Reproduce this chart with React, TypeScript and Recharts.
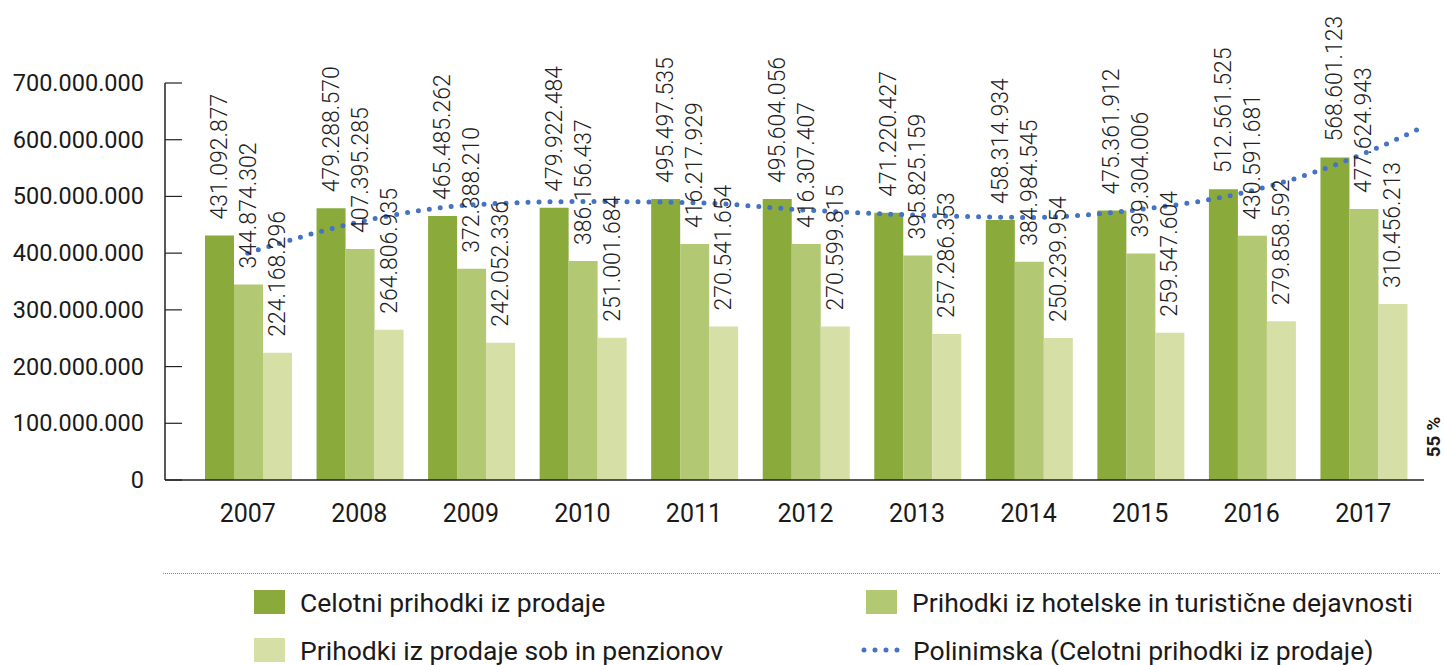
import React from 'react';
import { ComposedChart, Bar, Line, XAxis, YAxis, LabelList } from 'recharts';

const years = ['2007', '2008', '2009', '2010', '2011', '2012', '2013', '2014', '2015', '2016', '2017'];
const celotni = [431092877, 479288570, 465485262, 479922484, 495497535, 495604056, 471220427, 458314934, 475361912, 512561525, 568601123];
const hotelske = [344874302, 407395285, 372388210, 386156437, 416217929, 416307407, 395825159, 384984545, 399304006, 430591681, 477624943];
const sobe = [224168296, 264806935, 242052336, 251001684, 270541654, 270599815, 257286353, 250239954, 259547604, 279858592, 310456213];
const yTicks = [0, 100000000, 200000000, 300000000, 400000000, 500000000, 600000000, 700000000];

// polynomial trend (x = category index)
const trendX = [0, 1, 2, 3, 4, 5, 6, 7, 8, 9, 10, 10.5];
const trendY = [400000000, 455000000, 485000000, 491000000, 489000000, 476000000, 467000000, 463000000, 477000000, 510000000, 575000000, 619000000];

const C_DARK = '#8AAA3C';
const C_MID = '#B2C872';
const C_LIGHT = '#D6DFA6';
const C_TREND = '#4472C4';
const TXT = '#1a1a1a';
const AXIS_X = 165;

const fmt = (v: number) => String(v).replace(/\B(?=(\d{3})+(?!\d))/g, '.');

const data = years.map((y, i) => ({ year: y, celotni: celotni[i], hotelske: hotelske[i], sobe: sobe[i] }));
const trend = trendX.map((x, i) => ({ x, y: trendY[i] }));

const YTick = (props: any) => {
  const { y, payload } = props;
  return (
    <g>
      <line x1={AXIS_X} x2={AXIS_X + 17} y1={y} y2={y} stroke="#222" strokeWidth={1.2} />
      <text x={144} y={y + 8} textAnchor="end" fontSize={23.5} fill={TXT}>{fmt(payload.value)}</text>
    </g>
  );
};

const XTick = (props: any) => {
  const { x, y, payload } = props;
  return (
    <text x={x} y={y + 34} textAnchor="middle" fontSize={25} fill={TXT}>{payload.value}</text>
  );
};

const barLabel = (props: any) => {
  const { x, y, width, value } = props;
  const cx = x + width / 2;
  const cy = y - 16;
  return (
    <text transform={`translate(${cx},${cy}) rotate(-90)`} textAnchor="start" dominantBaseline="central"
      fontSize={23} fontWeight={300} fill="#222">{fmt(value)}</text>
  );
};

export default function App() {
  return (
    <div style={{ position: 'absolute', left: 0, top: 0, width: 1444, height: 665, background: '#fff', fontFamily: 'Roboto, sans-serif' }}>
      <ComposedChart width={1444} height={665} data={data} barGap={0} barCategoryGap={13}
        margin={{ top: 83, right: 20, bottom: 135, left: 0 }}>
        <XAxis dataKey="year" height={50} padding={{ left: 27, right: 5 }} axisLine={{ stroke: '#222', strokeWidth: 1.5 }}
          tickLine={false} tick={<XTick />} interval={0} />
        <XAxis xAxisId="t" dataKey="x" type="number" domain={[-0.5, 10.5]} padding={{ left: 27, right: 5 }} hide allowDataOverflow />
        <YAxis width={165} domain={[0, 700000000]} ticks={yTicks} axisLine={{ stroke: '#222', strokeWidth: 1.5 }}
          tickLine={false} tick={<YTick />} interval={0} />
        <Bar dataKey="celotni" fill={C_DARK} isAnimationActive={false}>
          <LabelList dataKey="celotni" content={barLabel} />
        </Bar>
        <Bar dataKey="hotelske" fill={C_MID} isAnimationActive={false}>
          <LabelList dataKey="hotelske" content={barLabel} />
        </Bar>
        <Bar dataKey="sobe" fill={C_LIGHT} isAnimationActive={false}>
          <LabelList dataKey="sobe" content={barLabel} />
        </Bar>
        <Line data={trend} xAxisId="t" dataKey="y" type="monotone" stroke={C_TREND} strokeWidth={5}
          strokeDasharray="0 11" strokeLinecap="round" dot={false} activeDot={false} isAnimationActive={false} />
      </ComposedChart>

      {/* 55 % note */}
      <div style={{ position: 'absolute', left: 1433, top: 437, transform: 'translate(-50%,-50%) rotate(-90deg)',
        fontSize: 19, lineHeight: 1, fontWeight: 700, color: TXT, whiteSpace: 'nowrap' }}>55 %</div>

      {/* separator */}
      <div style={{ position: 'absolute', left: 163, top: 573, width: 1277, borderTop: '1px dotted #888' }} />

      {/* legend */}
      <LegendItem left={254} top={590} color={C_DARK} label="Celotni prihodki iz prodaje" />
      <LegendItem left={866} top={590} color={C_MID} label="Prihodki iz hotelske in turistične dejavnosti" />
      <LegendItem left={254} top={638} color={C_LIGHT} label="Prihodki iz prodaje sob in penzionov" />
      <div style={{ position: 'absolute', left: 858, top: 638, height: 24, display: 'flex', alignItems: 'center' }}>
        <svg width={44} height={24}>
          <line x1={6} x2={40} y1={12} y2={12} stroke={C_TREND} strokeWidth={5} strokeDasharray="0 11" strokeLinecap="round" />
        </svg>
        <span style={{ marginLeft: 11, fontSize: 26.5, color: TXT, whiteSpace: 'nowrap' }}>Polinimska (Celotni prihodki iz prodaje)</span>
      </div>
    </div>
  );
}

function LegendItem({ left, top, color, label }: { left: number; top: number; color: string; label: string }) {
  return (
    <div style={{ position: 'absolute', left, top, height: 24, display: 'flex', alignItems: 'center' }}>
      <div style={{ width: 31, height: 24, background: color }} />
      <span style={{ marginLeft: 15, fontSize: 26.5, color: TXT, whiteSpace: 'nowrap' }}>{label}</span>
    </div>
  );
}
